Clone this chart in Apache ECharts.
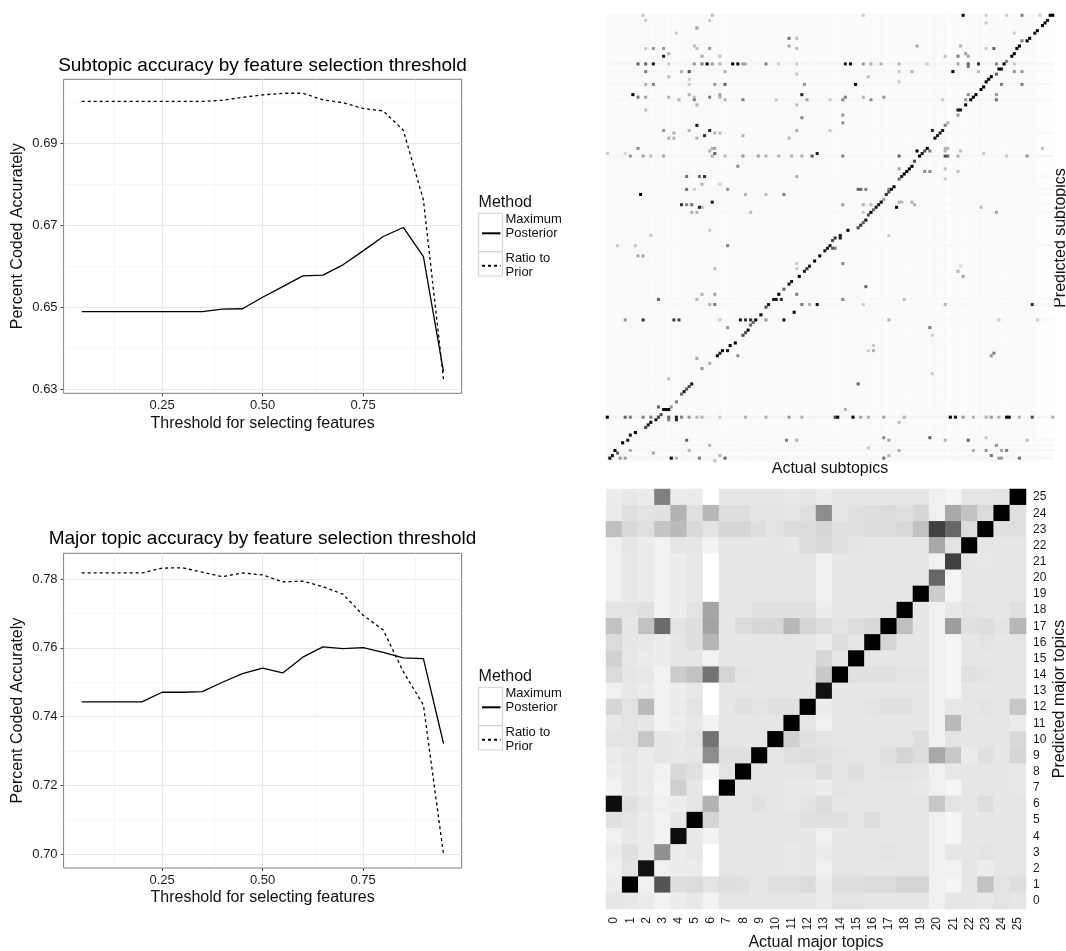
<!DOCTYPE html>
<html><head><meta charset="utf-8">
<script src="https://cdn.jsdelivr.net/npm/echarts@6/dist/echarts.min.js"></script>
<style>html,body{margin:0;padding:0;background:#fff}#c{width:1066px;height:951px}</style>
</head><body><div id="c"></div>
<script>
const thresholds = [0.05,0.10,0.15,0.20,0.25,0.30,0.35,0.40,0.45,0.50,0.55,0.60,0.65,0.70,0.75,0.80,0.85,0.90,0.95];
const subMaxPosterior = [0.649,0.649,0.649,0.649,0.649,0.649,0.649,0.6496,0.6497,0.6525,0.6551,0.6577,0.6579,0.6604,0.6638,0.6673,0.6695,0.6624,0.6344];
const subRatioPrior = [0.7002,0.7002,0.7002,0.7002,0.7002,0.7002,0.7002,0.7005,0.7012,0.7018,0.7022,0.7022,0.7006,0.6999,0.6985,0.6979,0.6932,0.6762,0.6325];
const majMaxPosterior = [0.7443,0.7443,0.7443,0.7443,0.7471,0.7471,0.7473,0.75,0.7525,0.7541,0.7527,0.7573,0.7603,0.7598,0.7601,0.7587,0.7571,0.7569,0.7322];
const majRatioPrior = [0.7818,0.7818,0.7818,0.7818,0.7832,0.7833,0.782,0.7807,0.7818,0.7812,0.7792,0.7794,0.7778,0.7756,0.7695,0.7652,0.7531,0.7434,0.70];
const xMajorTicks = [0.25,0.5,0.75];
const xMinorTicks = [0.125,0.375,0.625,0.875];
const subYMajor = [0.63,0.65,0.67,0.69];
const subYMinor = [0.64,0.66,0.68,0.70];
const majYMajor = [0.70,0.72,0.74,0.76,0.78];
const majYMinor = [0.71,0.73,0.75,0.77];
const majorTopics = ['0','1','2','3','4','5','6','7','8','9','10','11','12','13','14','15','16','17','18','19','20','21','22','23','24','25'];
// shade of each cell, predicted topic 25 (first row) down to 0 (last row)
const majorMatrix = [
[.07,.09,.08,.5,.07,.08,0,.1,.1,.1,.1,.09,.1,.07,.1,.1,.1,.1,.1,.1,.06,.04,.1,.1,.11,1],
[.08,.12,.11,.12,.3,.12,.28,.13,.13,.11,.11,.1,.12,.45,.1,.12,.13,.14,.12,.16,.06,.34,.24,.14,1,.12],
[.25,.15,.12,.23,.27,.15,.11,.16,.16,.13,.11,.14,.14,.16,.12,.12,.14,.14,.15,.24,.75,.6,.14,1,.12,.12],
[.06,.1,.08,.05,.1,.1,.05,.1,.1,.1,.1,.09,.14,.15,.12,.11,.1,.1,.1,.1,.34,.11,1,.1,.1,.1],
[.06,.09,.08,.05,.07,.09,0,.1,.1,.1,.1,.1,.1,.06,.1,.1,.1,.1,.1,.1,.06,.75,.1,.09,.1,.1],
[.06,.09,.08,.05,.07,.09,0,.1,.1,.1,.1,.1,.1,.06,.1,.1,.1,.1,.1,.1,.6,.04,.1,.1,.1,.1],
[.06,.09,.08,.05,.07,.09,0,.1,.1,.1,.1,.1,.1,.06,.1,.1,.1,.1,.1,1,.2,.04,.1,.1,.1,.1],
[.11,.11,.12,.05,.07,.11,.35,.1,.1,.12,.12,.12,.12,.07,.1,.1,.1,.11,1,.1,.06,.09,.11,.1,.1,.12],
[.24,.1,.24,.58,.11,.13,.36,.1,.14,.16,.16,.28,.17,.13,.11,.13,.15,1,.25,.1,.06,.38,.12,.13,.11,.28],
[.14,.1,.09,.07,.1,.13,.29,.1,.1,.1,.1,.1,.1,.07,.13,.1,1,.17,.1,.1,.06,.04,.1,.11,.1,.1],
[.18,.09,.08,.07,.1,.1,.05,.1,.1,.1,.1,.1,.1,.16,.1,1,.1,.1,.1,.1,.06,.04,.1,.1,.1,.1],
[.14,.1,.09,.05,.2,.24,.55,.17,.11,.1,.1,.1,.1,.21,1,.12,.12,.12,.11,.11,.06,.04,.12,.11,.1,.1],
[.06,.09,.08,.05,.07,.09,0,.1,.1,.1,.1,.1,.1,.93,.1,.1,.1,.1,.1,.1,.06,.04,.1,.1,.1,.1],
[.16,.11,.27,.05,.08,.11,0,.1,.12,.11,.12,.12,1,.07,.1,.1,.11,.12,.12,.1,.06,.09,.1,.11,.1,.22],
[.09,.11,.1,.05,.07,.09,.05,.1,.1,.1,.1,1,.1,.06,.1,.1,.1,.1,.1,.1,.06,.27,.1,.1,.1,.08],
[.11,.11,.22,.1,.09,.11,.55,.1,.1,.1,1,.18,.12,.11,.1,.1,.1,.1,.1,.13,.06,.11,.1,.1,.1,.15],
[.08,.1,.08,.1,.09,.1,.45,.12,.12,1,.1,.12,.13,.12,.11,.1,.1,.12,.17,.13,.34,.22,.08,.12,.1,.16],
[.07,.09,.08,.05,.15,.12,.04,.11,1,.1,.1,.1,.1,.13,.11,.13,.1,.11,.11,.1,.06,.09,.1,.1,.1,.09],
[.05,.09,.08,.04,.19,.1,0,1,.1,.1,.1,.09,.09,.07,.11,.1,.1,.1,.1,.09,.06,.04,.1,.1,.1,.09],
[.95,.12,.09,.06,.07,.1,.3,.1,.1,.12,.1,.09,.11,.14,.1,.1,.1,.1,.1,.1,.22,.11,.1,.13,.1,.1],
[.12,.1,.08,.05,.1,1,.17,.1,.1,.1,.1,.1,.12,.12,.12,.1,.13,.1,.1,.1,.06,.04,.1,.1,.1,.1],
[.06,.09,.08,.05,.95,.09,.05,.1,.1,.1,.1,.1,.1,.06,.1,.1,.1,.1,.1,.1,.06,.04,.1,.1,.1,.1],
[.08,.12,.08,.43,.07,.09,0,.1,.1,.1,.1,.09,.1,.08,.1,.1,.1,.11,.1,.1,.06,.1,.1,.11,.1,.1],
[.06,.11,.93,.06,.07,.08,0,.1,.1,.1,.1,.09,.1,.06,.1,.1,.1,.1,.1,.1,.06,.05,.1,.07,.1,.1],
[.07,1,.06,.67,.13,.14,.11,.13,.12,.1,.12,.12,.14,.07,.13,.13,.14,.14,.17,.17,.06,.04,.1,.24,.11,.13],
[.1,.09,.08,.05,.07,.09,.05,.1,.1,.1,.1,.1,.1,.07,.11,.11,.1,.1,.1,.1,.06,.1,.1,.09,.11,.1]
];
const subtopicCount = 175;
// faint shade of each actual subtopic column (thousandths)
const subColumnShade = [
20,22,18,24,20,16,24,20,18,24,16,24,20,26,20,18,24,20,16,22,24,18,26,20,16,
24,18,20,14,22,24,20,18,24,14,20,24,16,22,20,24,18,14,22,20,24,12,18,24,20,
16,22,14,24,20,18,22,24,16,20,18,24,14,20,22,18,24,16,20,22,14,24,18,22,20,
16,24,20,14,22,18,24,20,16,22,24,18,14,20,22,12,20,24,18,14,22,20,18,24,16,
20,22,14,24,18,20,14,22,24,16,20,18,24,14,22,18,20,24,14,18,22,20,16,24,18,
20,14,22,24,18,14,20,22,8,10,18,22,24,16,20,14,24,18,20,16,22,24,14,18,20,
22,16,24,18,14,20,24,16,22,18,20,14,24,18,22,16,20,24,14,10,6,6,4,4,4];
// rows with a faint streak: [row from top, shade]
const subRowStreaks = [[19,.04],[22,.03],[27,.03],[33,.03],[46,.028],[55,.04],[63,.026],[68,.026],[70,.028],[74,.028],[77,.026],[90,.03],[111,.026],[113,.03],[119,.026],[157,.045],[166,.03],[168,.026],[170,.035],[173,.035]];
// [actual column, predicted row from top, shade]
const subDiagonal = [[174,0,1],[173,0,1],[172,2,.9],[171,3,1],[170,4,1],[168,6,1],[167,7,.9],[165,9,1],[164,10,1],[162,10,.5],[161,12,1],[160,13,1],[159,15,1],[158,16,1],[156,18,.5],[155,19,1],[154,21,.9],[153,21,1],[152,23,.6],[150,24,1],[149,25,1],[148,26,1],[147,28,1],[146,29,1],[144,31,1],[143,32,1],[142,33,1],[140,35,1],[138,37,.9],[137,37,.9],[137,39,.4],[133,42,.3],[132,43,.5],[131,45,.9],[130,46,.9],[129,47,.9],[128,48,1],[127,45,.85],[125,52,1],[124,53,.7],[123,54,.9],[122,55,1],[121,53,1],[120,57,.7],[119,59,1],[118,60,1],[117,61,1],[116,62,1],[115,63,.9],[114,64,.6],[112,67,1],[111,68,.9],[110,69,.7],[109,70,.8],[108,72,.4],[107,73,1],[106,74,.9],[105,75,.9],[104,76,.6],[103,77,1],[102,78,.7],[101,80,.9],[100,81,.6],[99,82,.8],[98,83,.7],[94,84,1],[91,86,.9],[89,87,.8],
[91,87,.9],[88,88,.7],[87,90,.9],[86,91,.9],[85,92,.9],[83,94,1],[81,96,1],[79,98,.9],[78,99,.8],[77,100,.9],[75,102,1],[72,104,.9],[71,105,.9],[69,107,.6],[67,109,1],[66,111,.9],[65,111,.9],[63,113,.9],[62,114,.7],[60,117,1],[58,119,1],[57,120,.6],[56,121,.6],[55,123,1],[54,124,.7],[53,125,.7],[50,128,1],[48,129,1],[47,131,.9],[45,131,1],[44,132,.9],[43,133,1],[40,136,.3],[37,138,.4],[35,134,.35],[33,144,.9],[32,145,.7],[31,146,.7],[30,147,.9],[29,148,.6],[27,151,.5],[25,153,.4],[24,154,1],[23,154,1],[22,154,.9],[21,156,.7],[20,157,.7],[19,158,.9],[17,159,1],[16,160,.9],[15,161,.7],[11,163,1],[9,164,.9],[8,166,.9],[6,167,1],[3,170,1],[2,172,.9],[1,173,1]];
const subTopLeft = [[14,0,.2],[15,2,.2],[41,0,.25],[40,2,.2],[35,5,.4],[27,7,.2],[71,9,.55],[74,9,.25],[71,12,.35],[74,13,.25],[34,12,.25],[35,13,.25],[40,13,.4],[15,13,.2],[18,13,.4],[22,13,.4],[24,15,.3],[22,16,.85],[37,16,.35],[44,16,.25],
[12,19,.6],[15,19,.6],[18,19,.9],[24,19,.2],[34,19,.4],[37,19,.5],[39,19,1],[41,19,.4],[44,19,.3],[49,19,1],[51,19,.95],[53,19,.4],[54,19,.3],[62,19,.5],[67,19,.2],[74,19,.2],
[15,22,.5],[32,22,.7],[29,22,.3],[46,22,.3],[74,23,.2],[24,24,.25],[32,25,.2],[15,27,.3],[18,27,.5],[32,27,.2],[42,27,.4],[46,27,.6],[77,27,.4],
[10,31,1],[76,31,.85],[12,32,.5],[15,32,.35],[24,32,.3],[32,31,.3],[34,32,.25],[40,32,.5],[44,31,.35],[44,32,.3],[28,33,.3],[34,33,.5],[46,33,.3],[53,33,.5],[78,33,.35],[66,33,.2],[87,33,.2],
[35,35,.3],[74,35,.25],[15,37,.25],[76,40,.45],[35,43,.9],[40,45,.85],[22,45,.4],[38,47,.8],[42,46,.3],[44,46,.25],[26,46,.3],[32,45,.3],[74,45,.3],[87,45,.2],[24,48,.3],[26,48,.3],[35,48,.3],[53,47,.3],[71,48,.3],
[12,52,.45],[41,52,.3],[42,52,.35],[40,53,.3],[42,54,.6],[82,54,.85],[80,55,.65],[9,55,.4],[14,55,.35],[17,55,.25],[22,55,.35],[41,55,.3],[46,55,.25],[53,55,.4],[59,55,.35],[62,55,.3],[67,55,.3],[72,55,.3],[76,55,.3],[0,54,.2],[7,54,.15],
[51,59,.45],[31,63,.55],[36,63,.55],[38,63,.8],[74,63,.3],[37,66,.3],[44,66,.2],[31,68,.55],[47,68,.4],[34,68,.2],[13,70,1],[69,70,.5],[54,70,.3],[62,70,.25],[41,73,.9],[29,74,.8],[31,74,.5],[33,74,.55],[36,75,.85],[37,75,.3],[33,77,.3],[35,77,.3],[56,77,.25],[40,84,.2],[17,86,.2]];
const subTopRight = [[139,0,.95],[162,0,.5],[156,0,.2],[148,0,.2],[148,3,.2],[169,0,.2],[100,0,.2],[159,7,.2],[121,12,.35],[138,12,.3],[140,15,.35],[137,16,.5],[141,16,.35],[132,16,.25],[151,13,.6],[148,13,.2],
[93,19,.85],[95,19,1],[100,19,.4],[103,19,.3],[107,19,.3],[114,19,.3],[125,19,.2],[137,19,.35],[141,19,.6],[145,19,.8],[152,19,.5],[159,19,.2],[141,20,.5],
[135,22,1],[119,22,.3],[114,22,.2],[145,22,.25],[159,22,.4],[162,22,.4],[102,24,.25],[97,27,1],[154,27,.5],[162,27,.5],[114,26,.2],
[141,31,.45],[152,31,.4],[93,32,.5],[100,32,.3],[108,32,.4],[92,33,.45],[103,33,.45],[152,33,.55],[140,33,.4],[131,33,.2],[92,39,.4],[92,42,.4],
[132,52,.3],[133,52,.3],[138,53,.25],[170,52,.25],[126,53,.5],[132,55,.7],[133,55,.6],[132,53,.3],[114,55,.6],[92,55,.5],[164,55,.4],[137,55,.3],[147,54,.2],[156,55,.2],
[114,60,.35],[124,61,.45],[126,61,.45],[132,60,.25],[137,61,.25],[132,64,.2],[98,68,.6],[99,68,.6],[101,68,.5],[110,68,.5],[113,75,1],[115,73,.3],[119,73,.3],[120,74,.3],[92,74,.35],[100,74,.3],[103,74,.25],[146,75,.25],[152,77,.35],[114,73,.3],[100,77,.2],[110,86,.2]];
const subBottomLeft = [[47,90,.5],[4,90,.2],[11,90,.2],[12,94,.35],[14,94,.35],[42,99,.25],[74,97,.2],[74,99,.2],[37,109,.3],[42,109,.35],[74,109,.5],[20,111,.6],[35,111,.3],[68,111,.8],[40,113,.3],[42,113,.5],[76,113,.5],[82,113,.9],[79,113,.3],[73,116,1],
[7,119,.4],[14,119,.8],[26,119,.75],[28,119,.75],[52,119,.9],[54,119,.8],[56,119,.8],[62,119,.4],[69,119,.9],[44,119,.2],[47,122,.4],[51,133,.45],[24,142,.25],[20,153,.6],
[0,157,1],[7,157,.6],[9,157,.5],[14,157,.5],[17,157,.5],[20,157,.3],[24,157,.6],[27,157,.85],[29,157,.5],[32,157,.4],[35,157,.3],[37,157,.3],[44,157,.2],[54,157,.3],[62,157,.3],[71,157,.4],[76,157,.3],[24,158,.5],[27,158,.85],
[31,166,.6],[70,166,.5],[74,166,.3],[4,171,.6],[9,170,.3],[18,171,.35],[25,173,1],[36,173,.5],[46,173,.6],[44,172,.3],[42,174,.25],[27,173,.3],[32,170,.3],[40,168,.3],[7,173,.4],[5,173,.4]];
const subBottomRight = [[88,91,.6],[89,91,.5],[92,97,.45],[137,100,.3],[139,102,.35],[138,98,.15],[101,106,.6],[92,111,.45],[116,111,.25],[166,113,.8],[132,113,.3],[100,113,.2],[110,119,.3],[153,119,.2],[168,119,.2],[126,122,.5],[127,125,.2],[104,129,.2],[102,131,.2],[104,131,.3],[151,132,.5],[150,133,.4],[127,140,.2],[98,144,.6],[93,154,.3],
[89,157,.7],[90,157,1],[96,157,1],[99,157,.35],[102,157,.3],[108,157,.35],[116,157,.3],[134,157,1],[136,157,.9],[139,157,.4],[143,157,.3],[148,157,.3],[150,157,.4],[153,157,.3],[156,157,1],[157,157,1],[161,157,.3],[166,157,.7],[174,157,.3],
[114,159,.25],[108,165,.45],[126,165,.6],[110,166,.35],[132,166,.3],[141,166,.6],[164,166,.25],[148,165,.2],[152,168,.4],[102,169,.2],[143,170,.3],[148,170,.4],[154,170,.35],[156,170,.5],[114,170,.3],[108,173,.55],[110,172,.3],[150,172,.55],[153,173,.4],[154,173,.4],[161,173,.55]];

const FONT = '"Liberation Sans", Arial, sans-serif';
const BORDER = '#7f7f7f', TXT = '#111', TICK = '#1c1c1c';
const MAXP = 'Maximum\nPosterior', RATIO = 'Ratio to\nPrior';

const subCats = Array.from({length: subtopicCount}, (_, i) => String(i));
const subData = [];
const streak = new Map(subRowStreaks);
for (let r = 0; r < subtopicCount; r++) {
  for (let c = 0; c < subtopicCount; c++) {
    subData.push([c, r, Math.max((subColumnShade[c] ?? 20) / 1000, streak.get(r) || 0)]);
  }
}
[...subTopLeft, ...subTopRight, ...subBottomLeft, ...subBottomRight, ...subDiagonal]
  .sort((a, b) => a[2] - b[2]).forEach(m => subData.push(m));
const majData = [];
majorMatrix.forEach((row, i) => row.forEach((v, c) => majData.push([c, 25 - i, v])));

function zip(xs, ys) { return xs.map((x, i) => [x, ys[i]]); }
function gridLines(xMaj, xMin, yMaj, yMin) {
  const mk = (k, v, w, col) => ({ [k]: v, lineStyle: { color: col, width: w, type: 'solid' } });
  return [
    ...xMin.map(v => mk('xAxis', v, 0.6, '#f2f2f2')),
    ...yMin.map(v => mk('yAxis', v, 0.6, '#f2f2f2')),
    ...xMaj.map(v => mk('xAxis', v, 1, '#e8e8e8')),
    ...yMaj.map(v => mk('yAxis', v, 1, '#e8e8e8'))
  ];
}
function lineAxes(idx, yMin, yMax, yTicks) {
  return {
    x: { type: 'value', gridIndex: idx, min: 0.005, max: 0.995, splitLine: { show: false },
      axisLine: { show: false },
      axisTick: { show: true, length: 3, customValues: xMajorTicks, lineStyle: { color: '#444' } },
      axisLabel: { customValues: xMajorTicks, formatter: v => v.toFixed(2), fontFamily: FONT, fontSize: 13, color: TICK, margin: 6 },
      name: 'Threshold for selecting features', nameLocation: 'middle', nameGap: 22,
      nameTextStyle: { fontFamily: FONT, fontSize: 16, color: TXT } },
    y: { type: 'value', gridIndex: idx, min: yMin, max: yMax, splitLine: { show: false },
      axisLine: { show: false },
      axisTick: { show: true, length: 3, customValues: yTicks, lineStyle: { color: '#444' } },
      axisLabel: { customValues: yTicks, formatter: v => v.toFixed(2), fontFamily: FONT, fontSize: 13, color: TICK, margin: 6 },
      name: 'Percent Coded Accurately', nameLocation: 'middle', nameGap: 38,
      nameTextStyle: { fontFamily: FONT, fontSize: 16, color: TXT } }
  };
}
const a0 = lineAxes(0, 0.6291, 0.7056, subYMajor);
const a1 = lineAxes(1, 0.696, 0.7875, majYMajor);

function lineSeries(name, idx, ys, dashed) {
  return { name, type: 'line', xAxisIndex: idx, yAxisIndex: idx, data: zip(thresholds, ys),
    symbol: 'none', z: 3, silent: true,
    lineStyle: { color: '#000', width: 1.3, type: dashed ? [3, 3] : 'solid' }, itemStyle: { color: '#000' } };
}
function gridSeries(idx, lines) {
  return { type: 'line', xAxisIndex: idx, yAxisIndex: idx, data: [], z: 1, silent: true,
    markLine: { z: 1, silent: true, symbol: ['none', 'none'], label: { show: false }, animation: false, data: lines } };
}
function legendItem(name, left, top, extraLine) {
  return { show: true, data: [name], orient: 'vertical', left, top, padding: 0, itemWidth: 18.5, itemHeight: 14,
    selectedMode: false, itemGap: 0, itemStyle: { opacity: 0 },
    formatter: n => extraLine ? n + '\n ' : n,
    textStyle: { fontFamily: FONT, fontSize: 13, color: TXT, lineHeight: 14 } };
}
function legendBoxes(oy) {
  const box = (y, h) => ({ type: 'rect', shape: { x: 478.6, y: oy + y, width: 24, height: h }, silent: true,
    style: { fill: 'none', stroke: '#d0d0d0', lineWidth: 1 } });
  return [box(213.3, 38.4), box(251.7, 24.3),
    { type: 'text', left: 478.6, top: oy + 194.5, silent: true,
      style: { text: 'Method', font: '16px ' + FONT, fill: TXT } }];
}

const option = {
  animation: false,
  backgroundColor: '#fff',
  title: [
    { text: 'Subtopic accuracy by feature selection threshold', left: 262.5, top: 56, textAlign: 'center', padding: 0,
      textStyle: { fontFamily: FONT, fontSize: 19, fontWeight: 'normal', color: '#000' } },
    { text: 'Major topic accuracy by feature selection threshold', left: 262.5, top: 529, textAlign: 'center', padding: 0,
      textStyle: { fontFamily: FONT, fontSize: 19, fontWeight: 'normal', color: '#000' } }
  ],
  grid: [
    { left: 63.6, top: 79.3, width: 398, height: 314, outerBoundsMode: 'none', show: true, borderColor: BORDER, borderWidth: 1, backgroundColor: 'transparent' },
    { left: 63.6, top: 553.3, width: 398, height: 314.7, outerBoundsMode: 'none', show: true, borderColor: BORDER, borderWidth: 1, backgroundColor: 'transparent' },
    { left: 606, top: 14, width: 448, height: 448, outerBoundsMode: 'none' },
    { left: 606, top: 489, width: 420, height: 420, outerBoundsMode: 'none' }
  ],
  xAxis: [a0.x, a1.x,
    { type: 'category', gridIndex: 2, data: subCats, axisLine: { show: false }, axisTick: { show: false }, axisLabel: { show: false }, splitLine: { show: false },
      name: 'Actual subtopics', nameLocation: 'middle', nameGap: -1, nameTextStyle: { fontFamily: FONT, fontSize: 16, color: TXT } },
    { type: 'category', gridIndex: 3, data: majorTopics, axisLine: { show: false }, axisTick: { show: false }, splitLine: { show: false },
      axisLabel: { rotate: 90, interval: 0, fontFamily: FONT, fontSize: 12, color: TICK, margin: 8 },
      name: 'Actual major topics', nameLocation: 'middle', nameGap: 26, nameTextStyle: { fontFamily: FONT, fontSize: 16, color: TXT } }
  ],
  yAxis: [a0.y, a1.y,
    { type: 'category', gridIndex: 2, inverse: true, position: 'right', data: subCats, axisLine: { show: false }, axisTick: { show: false }, axisLabel: { show: false }, splitLine: { show: false },
      name: 'Predicted subtopics', nameLocation: 'middle', nameGap: -1, nameRotate: 90, nameTextStyle: { fontFamily: FONT, fontSize: 16, color: TXT } },
    { type: 'category', gridIndex: 3, position: 'right', data: majorTopics, axisLine: { show: false }, axisTick: { show: false }, splitLine: { show: false },
      axisLabel: { interval: 0, fontFamily: FONT, fontSize: 12, color: TICK, margin: 7 },
      name: 'Predicted major topics', nameLocation: 'middle', nameGap: 26, nameRotate: 90, nameTextStyle: { fontFamily: FONT, fontSize: 16, color: TXT } }
  ],
  visualMap: { show: false, type: 'continuous', min: 0, max: 1, dimension: 2, seriesIndex: [6, 7], inRange: { color: ['#ffffff', '#000000'] } },
  legend: [
    legendItem(MAXP, 481, 212.3, true), legendItem(RATIO, 481, 251.7, false),
    legendItem(MAXP, 481, 686.3, true), legendItem(RATIO, 481, 725.7, false)
  ],
  series: [
    gridSeries(0, gridLines(xMajorTicks, xMinorTicks, subYMajor, subYMinor)),
    gridSeries(1, gridLines(xMajorTicks, xMinorTicks, majYMajor, majYMinor)),
    lineSeries(MAXP, 0, subMaxPosterior, false),
    lineSeries(RATIO, 0, subRatioPrior, true),
    lineSeries(MAXP, 1, majMaxPosterior, false),
    lineSeries(RATIO, 1, majRatioPrior, true),
    { type: 'heatmap', xAxisIndex: 2, yAxisIndex: 2, data: subData, progressive: 0, silent: true },
    { type: 'heatmap', xAxisIndex: 3, yAxisIndex: 3, data: majData, progressive: 0, silent: true }
  ],
  graphic: [...legendBoxes(0), ...legendBoxes(474)]
};
const chart = echarts.init(document.getElementById('c'), null, { renderer: 'canvas', width: 1066, height: 951 });
chart.setOption(option);
</script></body></html>
